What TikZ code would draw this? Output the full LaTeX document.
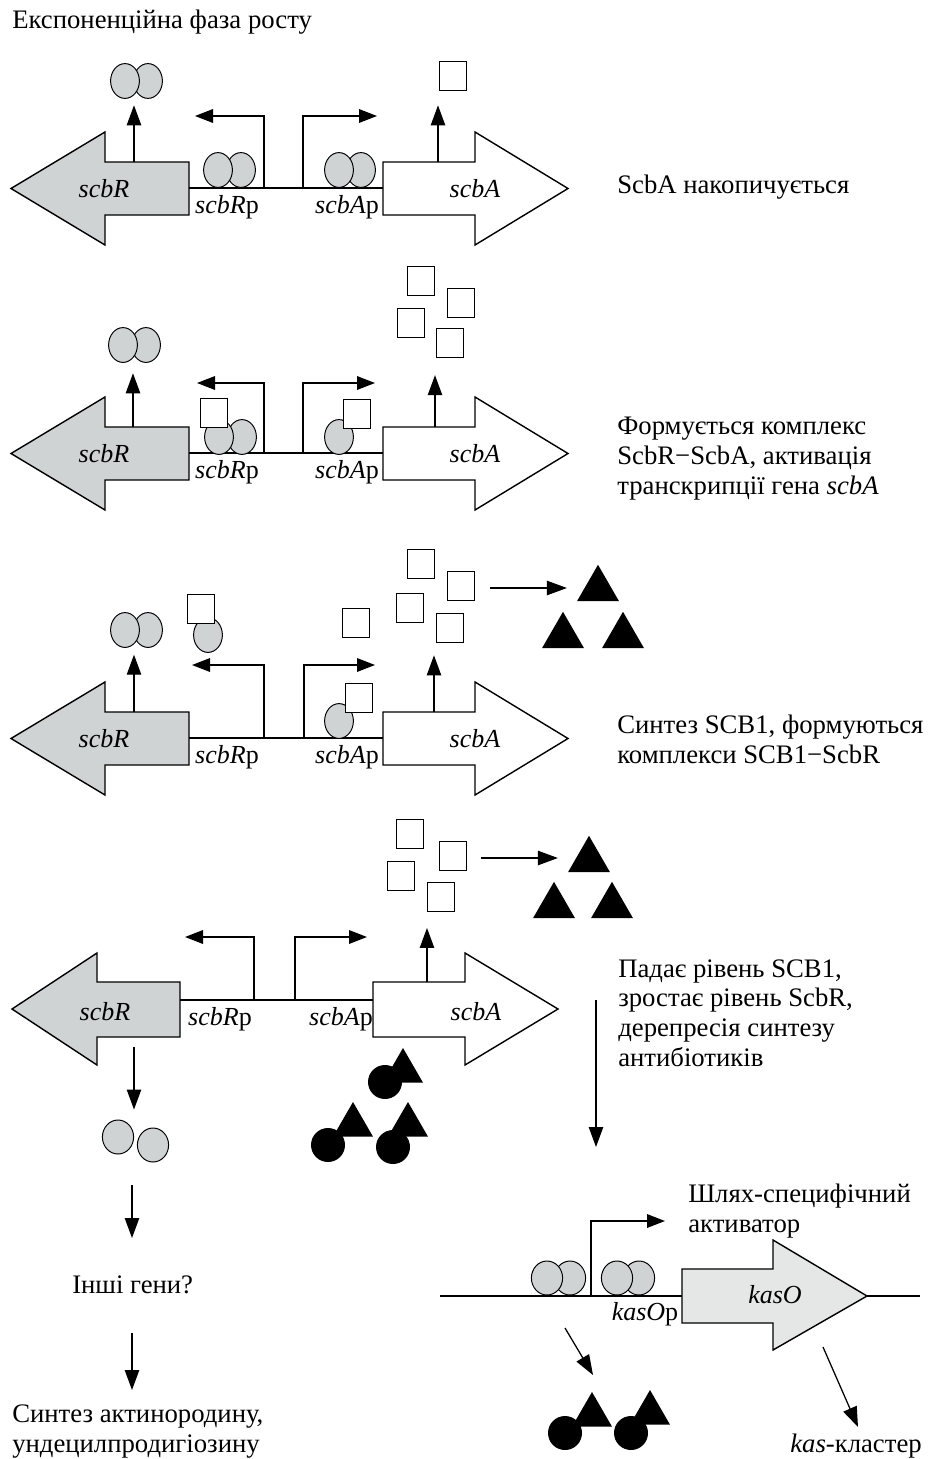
\documentclass[tikz,border=0pt]{standalone}
\usepackage{fontspec}
\setmainfont{Liberation Serif}
\usetikzlibrary{positioning}
\usetikzlibrary{calc}
\usetikzlibrary{arrows.meta}
\usetikzlibrary{shapes.geometric}

\definecolor{genegray}{RGB}{208,211,212}
\definecolor{kasgray}{RGB}{229,230,230}

\begin{document}
\begin{tikzpicture}[x=0.025cm, y=-0.025cm,
    lab/.style={inner sep=0pt, anchor=base west, align=left, font=\fontsize{19}{21}\selectfont},
    genelab/.style={inner sep=0pt, anchor=base, font=\fontsize{18.5}{20}\selectfont\itshape},
    prot/.style={ellipse, draw, fill=genegray, line width=0.7pt, minimum width=0.72cm, minimum height=0.87cm, inner sep=0pt},
    sig/.style={rectangle, draw, fill=white, line width=0.8pt, minimum width=0.68cm, minimum height=0.72cm, inner sep=0pt},
    ab/.style={regular polygon, regular polygon sides=3, fill=black, minimum size=1.21cm, inner sep=0pt},
    abs/.style={regular polygon, regular polygon sides=3, fill=black, minimum size=1.15cm, inner sep=0pt},
    abdot/.style={circle, fill=black, minimum size=0.85cm, inner sep=0pt},
    gene/.style={draw, line width=1pt},
    dna/.style={line width=1pt},
    prom/.style={line width=1pt, -{Triangle[length=4.5mm, width=3.4mm]}},
    flow/.style={line width=0.9pt, -{Triangle[length=5mm, width=3.6mm]}}]
    \useasboundingbox (0,0) rectangle (932,1459);

    \node[lab] (title) at (12,29) {Експоненційна фаза росту};

    % --- panel 1 ---
    \draw[gene, fill=genegray] (189,162) -- (105,162) -- (105,132) -- (11,188.5) -- (105,245) -- (105,215) -- (189,215) -- cycle;
    \draw[gene, fill=white] (383,162) -- (475,162) -- (475,132) -- (568,188.5) -- (475,245) -- (475,215) -- (383,215) -- cycle;
    \coordinate (r1) at (189,188);
    \coordinate (a1) at (383,188);
    \draw[dna] (r1) -- (a1);
    \node[genelab] (scbR1) at (104,197) {scbR};
    \node[genelab] (scbRp1) at (227,213) {scbR\upshape p};
    \node[genelab] (scbAp1) at (347,213) {scbA\upshape p};
    \node[genelab] (scbA1) at (475,197) {scbA};
    \coordinate (pr1) at (264,188);
    \coordinate (pr1e) at (195,116);
    \draw[prom] (pr1) |- (pr1e);
    \coordinate (pa1) at (303,188);
    \coordinate (pa1e) at (377,116);
    \draw[prom] (pa1) |- (pa1e);
    \node[prot] (b1r) at (241,170) {};
    \node[prot] (b1l) at (218,170) {};
    \node[prot] (c1r) at (361,170) {};
    \node[prot] (c1l) at (339,170) {};
    \node[prot] (d1r) at (148,81) {};
    \node[prot] (d1l) at (125,81) {};
    \coordinate (r1g) at (134,162);
    \draw[flow, shorten >=0.16cm] (r1g) -- (r1g |- d1l.south);
    \node[sig] (s1) at (453,76) {};
    \coordinate (a1g) at (438,162);
    \draw[flow, shorten >=0.36cm] (a1g) -- (a1g |- s1.south);
    \node[lab] (txt1) at (617,193) {ScbA накопичується};

    % --- panel 2 ---
    \begin{scope}[shift={(0,265)}]
    \draw[gene, fill=genegray] (189,162) -- (105,162) -- (105,132) -- (11,188.5) -- (105,245) -- (105,215) -- (189,215) -- cycle;
    \draw[gene, fill=white] (383,162) -- (475,162) -- (475,132) -- (568,188.5) -- (475,245) -- (475,215) -- (383,215) -- cycle;
    \coordinate (r2) at (189,188);
    \coordinate (a2) at (383,188);
    \draw[dna] (r2) -- (a2);
    \node[genelab] (scbR2) at (104,197) {scbR};
    \node[genelab] (scbRp2) at (227,213) {scbR\upshape p};
    \node[genelab] (scbAp2) at (347,213) {scbA\upshape p};
    \node[genelab] (scbA2) at (475,197) {scbA};
    \coordinate (pr2) at (264,188);
    \coordinate (pr2e) at (197,118);
    \draw[prom] (pr2) |- (pr2e);
    \coordinate (pa2) at (303,188);
    \coordinate (pa2e) at (375,118);
    \draw[prom] (pa2) |- (pa2e);
    \node[prot] (b2r) at (242,172) {};
    \node[prot] (b2l) at (219,172) {};
    \node[sig] (bs2) at (214,148) {};
    \node[prot] (c2) at (339,172) {};
    \node[sig] (cs2) at (357,149) {};
    \node[prot] (d2r) at (146,80) {};
    \node[prot] (d2l) at (123,80) {};
    \coordinate (r2g) at (133,162);
    \draw[flow, shorten >=0.26cm] (r2g) -- (r2g |- d2l.south);
    \node[sig] (s21) at (421,16) {};
    \node[sig] (s22) at (461,38) {};
    \node[sig] (s23) at (411,58) {};
    \node[sig] (s24) at (450,78) {};
    \coordinate (a2g) at (435,162);
    \draw[flow, shorten >=0.43cm] (a2g) -- (a2g |- s24.south);
    \node[lab] (txt2) at (617,229) {Формується комплекс\\ScbR−ScbA, активація\\транскрипції гена \textit{scbA}};
    \end{scope}

    % --- panel 3 ---
    \begin{scope}[shift={(0,550)}]
    \draw[gene, fill=genegray] (189,162) -- (105,162) -- (105,132) -- (11,188.5) -- (105,245) -- (105,215) -- (189,215) -- cycle;
    \draw[gene, fill=white] (383,162) -- (475,162) -- (475,132) -- (568,188.5) -- (475,245) -- (475,215) -- (383,215) -- cycle;
    \coordinate (r3) at (189,188);
    \coordinate (a3) at (383,188);
    \draw[dna] (r3) -- (a3);
    \node[genelab] (scbR3) at (104,197) {scbR};
    \node[genelab] (scbRp3) at (227,213) {scbR\upshape p};
    \node[genelab] (scbAp3) at (347,213) {scbA\upshape p};
    \node[genelab] (scbA3) at (475,197) {scbA};
    \coordinate (pr3) at (264,188);
    \coordinate (pr3e) at (192,115);
    \draw[prom] (pr3) |- (pr3e);
    \coordinate (pa3) at (304,188);
    \coordinate (pa3e) at (375,115);
    \draw[prom] (pa3) |- (pa3e);
    \node[prot] (c3) at (339,171) {};
    \node[sig] (cs3) at (359,148) {};
    \node[prot] (d3r) at (148,80) {};
    \node[prot] (d3l) at (125,80) {};
    \coordinate (r3g) at (134,162);
    \draw[flow, shorten >=0.17cm] (r3g) -- (r3g |- d3l.south);
    \node[prot] (m3) at (208,85) {};
    \node[sig] (ms3) at (201,59) {};
    \node[sig] (s31) at (421,14) {};
    \node[sig] (s32) at (461,36) {};
    \node[sig] (s33) at (410,58) {};
    \node[sig] (s34) at (450,78) {};
    \node[sig] (s35) at (356,73) {};
    \coordinate (a3g) at (434,162);
    \draw[flow, shorten >=0.31cm] (a3g) -- (a3g |- s34.south);
    \node[ab] (t31) at (598,39) {};
    \node[ab] (t32) at (563,86) {};
    \node[ab] (t33) at (623,86) {};
    \coordinate (f3) at (490,38);
    \draw[flow, shorten >=0.42cm] (f3) -- (f3 -| t31.west);
    \node[lab] (txt3) at (617,213) {Синтез SCB1, формуються\\комплекси SCB1−ScbR};
    \end{scope}

    % --- panel 4 ---
    \draw[gene, fill=genegray] (180,982) -- (97,982) -- (97,953) -- (12,1009) -- (97,1065) -- (97,1037) -- (180,1037) -- cycle;
    \draw[gene, fill=white] (373,982) -- (465,982) -- (465,953) -- (558,1009) -- (465,1065) -- (465,1037) -- (373,1037) -- cycle;
    \coordinate (r4) at (180,1000);
    \coordinate (a4) at (373,1000);
    \draw[dna] (r4) -- (a4);
    \node[genelab] (scbR4) at (105,1020) {scbR};
    \node[genelab] (scbRp4) at (220,1025) {scbR\upshape p};
    \node[genelab] (scbAp4) at (341,1025) {scbA\upshape p};
    \node[genelab] (scbA4) at (476,1020) {scbA};
    \coordinate (pr4) at (254,1000);
    \coordinate (pr4e) at (185,937);
    \draw[prom] (pr4) |- (pr4e);
    \coordinate (pa4) at (295,1000);
    \coordinate (pa4e) at (367,937);
    \draw[prom] (pa4) |- (pa4e);
    \node[sig] (s41) at (410,834) {};
    \node[sig] (s42) at (453,856) {};
    \node[sig] (s43) at (401,876) {};
    \node[sig] (s44) at (441,897) {};
    \coordinate (a4g) at (427,982);
    \draw[flow, shorten >=0.4cm] (a4g) -- (a4g |- s44.south);
    \node[ab] (t41) at (589,860) {};
    \node[ab] (t42) at (554,906) {};
    \node[ab] (t43) at (612,906) {};
    \coordinate (f4) at (481,858);
    \draw[flow, shorten >=0.42cm] (f4) -- (f4 -| t41.west);
    \node[prot, minimum width=0.78cm, minimum height=0.85cm] (e4l) at (118,1137) {};
    \node[prot, minimum width=0.78cm, minimum height=0.85cm] (e4r) at (153,1145) {};
    \coordinate (r4g) at (134,1047);
    \draw[flow, shorten >=0.25cm] (r4g) -- (r4g |- e4l.north);
    \node[abs] (k41) at (403,1071) {};
    \node[abdot] (o41) at (385,1082) {};
    \node[abs] (k42) at (353,1125) {};
    \node[abdot] (o42) at (328,1145) {};
    \node[abs] (k43) at (408,1125) {};
    \node[abdot] (o43) at (393,1147) {};
    \node[lab] (txt4) at (618,1066) {Падає рівень SCB1,\\зростає рівень ScbR,\\дерепресія синтезу\\антибіотиків};
    \coordinate (v4) at (596,1000);
    \coordinate (v4e) at (596,1147);
    \draw[flow] (v4) -- (v4e);

    % --- other genes ---
    \node[lab] (other) at (72,1293) {Інші гени?};
    \coordinate (g1) at (132,1185);
    \coordinate (g1e) at (132,1238);
    \draw[flow] (g1) -- (g1e);
    \coordinate (g2) at (132,1333);
    \coordinate (g2e) at (132,1390);
    \draw[flow] (g2) -- (g2e);
    \node[lab] (synth) at (12,1452) {Синтез актинородину,\\ундецилпродигіозину};

    % --- kasO ---
    \coordinate (k0) at (440,1296);
    \coordinate (k1) at (920,1296);
    \draw[dna] (k0) -- (k1);
    \draw[gene, fill=kasgray] (682,1269) -- (773,1269) -- (773,1240) -- (867,1296) -- (773,1350) -- (773,1323) -- (682,1323) -- cycle;
    \node[genelab] (kasO) at (775,1303) {kasO};
    \node[genelab] (kasOp) at (645,1320) {kasO\upshape p};
    \node[prot, minimum width=0.78cm, minimum height=0.85cm] (k5r) at (570,1278) {};
    \node[prot, minimum width=0.78cm, minimum height=0.85cm] (k5l) at (547,1278) {};
    \node[prot, minimum width=0.78cm, minimum height=0.85cm] (k6r) at (639,1278) {};
    \node[prot, minimum width=0.78cm, minimum height=0.85cm] (k6l) at (617,1278) {};
    \coordinate (pk) at (591,1296);
    \coordinate (pke) at (665,1221);
    \draw[prom] (pk) |- (pke);
    \node[lab] (act) at (688,1232) {Шлях-специфічний\\активатор};
    \coordinate (q1) at (565,1328);
    \coordinate (q1e) at (593,1375);
    \draw[flow] (q1) -- (q1e);
    \node[abs] (k51) at (592,1415) {};
    \node[abdot] (o51) at (565,1433) {};
    \node[abs] (k52) at (650,1413) {};
    \node[abdot] (o52) at (631,1433) {};
    \coordinate (q2) at (823,1347);
    \coordinate (q2e) at (858,1427);
    \draw[flow] (q2) -- (q2e);
    \node[lab] (clus) at (790,1452) {\textit{kas}-кластер};
\end{tikzpicture}
\end{document}
